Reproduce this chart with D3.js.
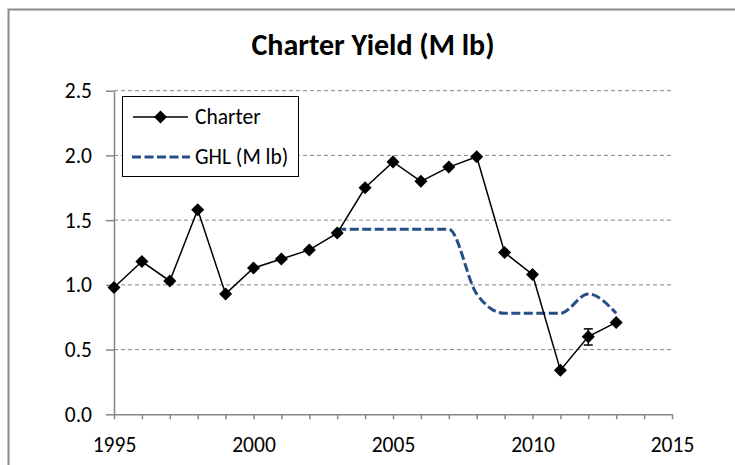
<!DOCTYPE html>
<html>
<head>
<meta charset="utf-8">
<script src="https://cdn.jsdelivr.net/npm/d3@7"></script>
<style>
  body { margin: 0; background: #fff; }
  svg text { font-family: Carlito, Calibri, Lato, sans-serif; fill: #000; }
</style>
</head>
<body>
<svg id="chart" width="735" height="465"></svg>
<script>
// chart values
const years = [1995, 1996, 1997, 1998, 1999, 2000, 2001, 2002, 2003, 2004,
               2005, 2006, 2007, 2008, 2009, 2010, 2011, 2012, 2013]
const charter = [0.98, 1.18, 1.03, 1.58, 0.93, 1.13, 1.20, 1.27, 1.40, 1.75,
                 1.95, 1.80, 1.91, 1.99, 1.25, 1.08, 0.34, 0.60, 0.71]
const ghlYears = [2003, 2004, 2005, 2006, 2007, 2008, 2009, 2010, 2011, 2012, 2013]
const ghl = [1.43, 1.43, 1.43, 1.43, 1.43, 0.93, 0.78, 0.78, 0.78, 0.93, 0.78]
const errYears = [2012]
const errLow = [0.535]
const errHigh = [0.66]
const yTicks = [0, 0.5, 1.0, 1.5, 2.0, 2.5]
const xMajor = [1995, 2000, 2005, 2010, 2015]
const xMinor = d3.range(1995, 2016)
const title = "Charter Yield (M lb)"
const legendLabels = ["Charter", "GHL (M lb)"]

const svg = d3.select("#chart")
const axisGray = "#868686"
const ghlBlue = "#254f86"

const x = d3.scaleLinear().domain([1995, 2015]).range([114, 672])
const y = d3.scaleLinear().domain([0, 2.5]).range([414.3, 90.7])

// outer frame (right and bottom edges fall outside the picture)
svg.append("rect")
    .attr("x", 8.5).attr("y", 9.5)
    .attr("width", 760).attr("height", 480)
    .attr("fill", "none")
    .attr("stroke", "#8a8a8a")
    .attr("stroke-width", 2)

svg.append("text")
    .attr("x", 373).attr("y", 55)
    .attr("text-anchor", "middle")
    .attr("font-size", 30)
    .attr("font-weight", "bold")
    .text(title)

// gridlines
svg.append("g")
  .selectAll("line")
  .data(yTicks.filter(d => d > 0))
  .enter().append("line")
    .attr("x1", x(1995)).attr("x2", x(2015))
    .attr("y1", d => y(d)).attr("y2", d => y(d))
    .attr("stroke", axisGray)
    .attr("stroke-width", 1)
    .attr("stroke-dasharray", "4,3")

// y axis
const yAxis = svg.append("g")
    .attr("transform", `translate(${x(1995)},0)`)
    .call(d3.axisLeft(y).tickValues(yTicks).tickFormat(d3.format(".1f"))
      .tickSize(8).tickSizeOuter(0).tickPadding(14))
yAxis.selectAll("text").attr("font-size", 21.5).attr("fill", "#000")

// x axis, minor ticks every year, labels every 5
const xAxis = svg.append("g")
    .attr("transform", `translate(0,${y(0)})`)
    .call(d3.axisBottom(x).tickValues(xMinor)
      .tickFormat(d => xMajor.includes(d) ? d : "")
      .tickSize(5).tickSizeOuter(0))
xAxis.selectAll("text")
    .attr("font-size", 21.5).attr("fill", "#000")
    .attr("y", 38).attr("dy", 0)

svg.selectAll(".domain, .tick line")
    .attr("stroke", axisGray)
    .attr("stroke-width", 1.5)

// GHL smoothed dashed line
const ghlLine = d3.line()
    .x((d, i) => x(ghlYears[i]))
    .y(d => y(d))
    .curve(d3.curveMonotoneX)

svg.append("path")
    .datum(ghl)
    .attr("d", ghlLine)
    .attr("fill", "none")
    .attr("stroke", ghlBlue)
    .attr("stroke-width", 3)
    .attr("stroke-dasharray", "9,3.5")

// Charter line
const charterLine = d3.line()
    .x((d, i) => x(years[i]))
    .y(d => y(d))

svg.append("path")
    .datum(charter)
    .attr("d", charterLine)
    .attr("fill", "none")
    .attr("stroke", "#000")
    .attr("stroke-width", 1.5)

// error bar
const err = svg.append("g")
    .selectAll("g")
    .data(errYears)
    .enter().append("g")
    .attr("stroke", "#000")
    .attr("stroke-width", 1.5)
err.append("line")
    .attr("x1", d => x(d)).attr("x2", d => x(d))
    .attr("y1", (d, i) => y(errLow[i])).attr("y2", (d, i) => y(errHigh[i]))
err.append("line")
    .attr("x1", d => x(d) - 4.5).attr("x2", d => x(d) + 4.5)
    .attr("y1", (d, i) => y(errLow[i])).attr("y2", (d, i) => y(errLow[i]))
err.append("line")
    .attr("x1", d => x(d) - 4.5).attr("x2", d => x(d) + 4.5)
    .attr("y1", (d, i) => y(errHigh[i])).attr("y2", (d, i) => y(errHigh[i]))

const diamond = d3.symbol(d3.symbolSquare, 85)

svg.append("g")
  .selectAll("path")
  .data(charter)
  .enter().append("path")
    .attr("d", diamond)
    .attr("transform", (d, i) => `translate(${x(years[i])},${y(d)}) rotate(45)`)
    .attr("fill", "#000")

// legend
const legend = svg.append("g")
legend.append("rect")
    .attr("x", 122.5).attr("y", 96.5)
    .attr("width", 176).attr("height", 80)
    .attr("fill", "#fff")
    .attr("stroke", "#000")
    .attr("stroke-width", 1)

legend.append("line")
    .attr("x1", 133).attr("x2", 188)
    .attr("y1", 117).attr("y2", 117)
    .attr("stroke", "#000").attr("stroke-width", 1.5)
legend.append("path")
    .attr("d", diamond)
    .attr("transform", "translate(160.5,117) rotate(45)")
    .attr("fill", "#000")
legend.append("line")
    .attr("x1", 132).attr("x2", 190)
    .attr("y1", 157).attr("y2", 157)
    .attr("stroke", ghlBlue).attr("stroke-width", 3)
    .attr("stroke-dasharray", "9,3.5")

legend.selectAll("text")
  .data(legendLabels)
  .enter().append("text")
    .attr("x", 195)
    .attr("y", (d, i) => 124 + i * 40)
    .attr("font-size", 21.5)
    .text(d => d)
</script>
</body>
</html>
